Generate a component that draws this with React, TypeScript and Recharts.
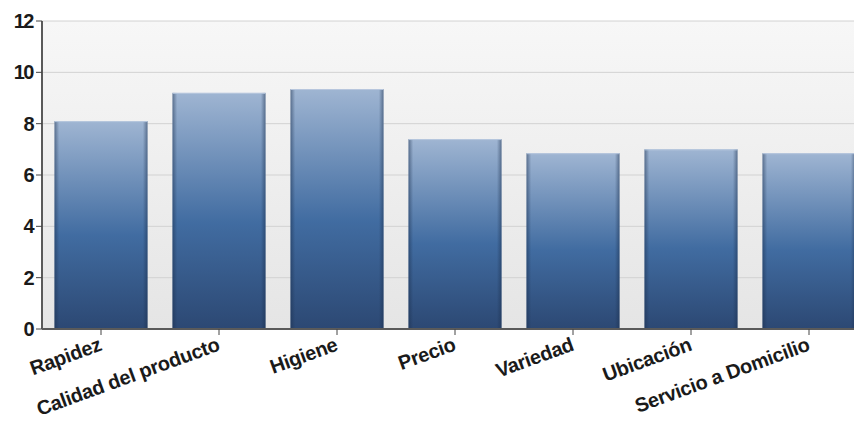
import React from "react";
import { BarChart, Bar, XAxis, YAxis, CartesianGrid } from "recharts";

const categories = [
  "Rapidez",
  "Calidad del producto",
  "Higiene",
  "Precio",
  "Variedad",
  "Ubicación",
  "Servicio a Domicilio"
];
const scores = [8.1, 9.2, 9.35, 7.4, 6.85, 7.0, 6.85];
const yTicks = [0, 2, 4, 6, 8, 10, 12];

const data = categories.map((name, i) => ({ name, value: scores[i] }));

const font = "'Liberation Sans', Arial, Helvetica, sans-serif";

const GlossyBar = (props: any) => {
  const { x, y, width, height } = props;
  if (!height || height <= 0) return null;
  return (
    <g>
      <rect x={x} y={y} width={width} height={height} fill="url(#barFill)" />
      <rect x={x} y={y} width={width} height={height} fill="url(#barEdge)" />
      <line x1={x} x2={x + width} y1={y + 0.5} y2={y + 0.5} stroke="#b7c7dd" strokeWidth={1} />
    </g>
  );
};

const XTick = (props: any) => {
  const { x, y, payload } = props;
  return (
    <g transform={`translate(${x + 2},${y + 13})`}>
      <text
        x={0}
        y={0}
        textAnchor="end"
        transform="rotate(-20)"
        fill="#1a1a1a"
        fontFamily={font}
        fontWeight="bold"
        fontSize={20}
        letterSpacing={-0.3}
      >
        {payload.value}
      </text>
    </g>
  );
};

export default function App() {
  return (
    <div style={{ position: "absolute", left: 0, top: 0, width: 854, height: 428, overflow: "hidden", background: "#fff" }}>
      <BarChart
        width={868}
        height={428}
        data={data}
        margin={{ top: 21, right: 0, left: 0, bottom: 29 }}
        barCategoryGap="10.6%"
      >
        <defs>
          <linearGradient id="plotBg" x1="0" y1="0" x2="0" y2="1">
            <stop offset="0%" stopColor="#f7f7f7" />
            <stop offset="100%" stopColor="#e5e5e5" />
          </linearGradient>
          <linearGradient id="barFill" x1="0" y1="0" x2="0" y2="1">
            <stop offset="0%" stopColor="#9fb5d2" />
            <stop offset="55%" stopColor="#416ca1" />
            <stop offset="100%" stopColor="#2c4873" />
          </linearGradient>
          <linearGradient id="barEdge" x1="0" y1="0" x2="1" y2="0">
            <stop offset="0%" stopColor="#1b2f4d" stopOpacity={0.5} />
            <stop offset="5%" stopColor="#1b2f4d" stopOpacity={0} />
            <stop offset="95%" stopColor="#1b2f4d" stopOpacity={0} />
            <stop offset="100%" stopColor="#1b2f4d" stopOpacity={0.5} />
          </linearGradient>
        </defs>
        <CartesianGrid
          vertical={false}
          stroke="#d2d2d2"
          fill="url(#plotBg)"
          fillOpacity={1}
        />
        <XAxis
          dataKey="name"
          interval={0}
          height={70}
          tickSize={6}
          axisLine={{ stroke: "#5a5a5a", strokeWidth: 2 }}
          tickLine={{ stroke: "#444" }}
          tick={<XTick />}
        />
        <YAxis
          width={42}
          domain={[0, 12]}
          ticks={yTicks}
          interval={0}
          tickSize={6}
          tickMargin={3}
          axisLine={{ stroke: "#5a5a5a", strokeWidth: 2 }}
          tickLine={{ stroke: "#444" }}
          tick={{ fill: "#1a1a1a", fontSize: 20, fontWeight: "bold", fontFamily: font, letterSpacing: -1.5 }}
        />
        <Bar dataKey="value" shape={<GlossyBar />} isAnimationActive={false} />
      </BarChart>
    </div>
  );
}
